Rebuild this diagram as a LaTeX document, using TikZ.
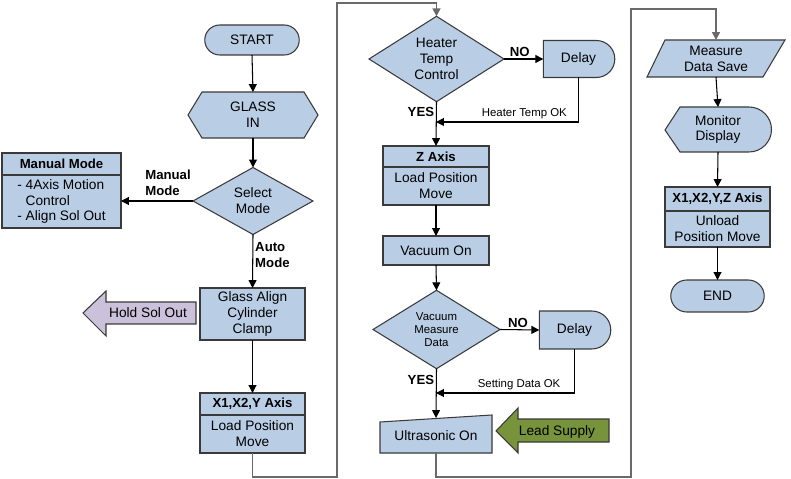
\documentclass[tikz,border=0pt]{standalone}
\usepackage{fontspec}
\setmainfont{Liberation Sans}
\usetikzlibrary{positioning,shapes.geometric,shapes.misc,arrows.meta,backgrounds}

\definecolor{flowblue}{HTML}{B9CDE5}
\definecolor{flowline}{HTML}{3A3A3A}
\definecolor{holdpurple}{HTML}{CCC1DA}
\definecolor{leadgreen}{HTML}{77933C}
\definecolor{routegray}{HTML}{6A6A6A}

\tikzset{
  base/.style={font=\fontsize{7.8}{9}\selectfont, align=center, inner sep=1pt, outer sep=0pt},
  boxed/.style={base, draw=flowline, fill=flowblue, line width=0.6pt},
  term/.style={boxed, rounded rectangle, minimum width=1.96cm, minimum height=0.6cm},
  proc/.style={boxed, rectangle, minimum width=2.1cm, minimum height=0.6cm},
  hdr/.style={proc, font=\fontsize{7.5}{9}\selectfont\bfseries, minimum height=0.44cm},
  body/.style={proc, minimum height=0.76cm},
  decision/.style={boxed, diamond, inner sep=0pt},
  delaybox/.style={boxed, rounded rectangle, rounded rectangle left arc=none,
    minimum width=1.5cm, minimum height=0.74cm},
  outline/.style={draw=flowline, fill=flowblue, line width=0.6pt},
  flow/.style={draw=black, line width=0.6pt, -{Triangle[length=4.5pt,width=4.5pt]}},
  route/.style={draw=routegray, line width=0.9pt},
  lbl/.style={font=\fontsize{7.5}{9}\selectfont\bfseries, align=left, inner sep=1pt},
  note/.style={font=\fontsize{6.5}{7.5}\selectfont, inner sep=1.5pt},
}

\begin{document}
\begin{tikzpicture}[x=0.02cm,y=-0.02cm]
	\useasboundingbox (0,0) rectangle (791,479);
	% first column
	\node[term] (start) at (252,40) {START};
	\node[base, minimum width=2.6cm, minimum height=0.92cm] (glass) at (253,115) {GLASS\\IN};
	\node[decision, minimum width=2.4cm, minimum height=1.34cm] (select) at (253,201) {Select\\Mode};
	\node[hdr, minimum width=2.38cm] (manh) at (61.5,164) {Manual Mode};
	\node[body, below=0pt of manh, minimum width=2.38cm, minimum height=1.06cm, align=left] (manb)
		{- 4Axis Motion\\\phantom{- }Control\\- Align Sol Out};
	\node[proc, minimum height=1.04cm] (align) at (252.5,314) {Glass Align\\Cylinder\\Clamp};
	\node[base] (hold) at (148,313) {Hold Sol Out};
	\node[hdr] (xyh) at (252.5,404) {X1,X2,Y Axis};
	\node[body, below=0pt of xyh] (xyb) {Load Position\\Move};
	% second column
	\node[decision, minimum width=2.7cm, minimum height=1.32cm] (heater) at (436.5,59) {Heater\\Temp\\Control};
	\node[delaybox] (delay1) at (578.5,59) {Delay};
	\coordinate (hjoin) at (436,122);
	\node[hdr, minimum width=2.12cm, minimum height=0.42cm] (zh) at (436,156.5) {Z Axis};
	\node[body, below=0pt of zh, minimum width=2.12cm] (zb) {Load Position\\Move};
	\node[proc, minimum width=2.12cm, minimum height=0.58cm] (vac) at (436,250.5) {Vacuum On};
	\node[decision, minimum width=2.54cm, minimum height=1.34cm,
		font=\fontsize{6.5}{7.4}\selectfont] (vdec) at (436.5,329.5) {Vacuum\\Measure\\Data};
	\node[delaybox, minimum height=0.76cm] (delay2) at (574.5,330) {Delay};
	\coordinate (vjoin) at (436,393);
	\node[base, minimum width=2.24cm, minimum height=0.7cm] (ultra) at (436,435.5) {Ultrasonic On};
	\node[base] (lead) at (557,432) {Lead Supply};
	% third column
	\node[base, minimum width=2.76cm, minimum height=0.74cm] (meas) at (716,58.5) {Measure\\Data Save};
	\node[base, minimum width=2.12cm, minimum height=0.9cm] (mon) at (718,129.5) {Monitor\\Display};
	\node[hdr, minimum height=0.48cm] (zzh) at (717.5,199) {X1,X2,Y,Z Axis};
	\node[body, below=0pt of zzh, minimum height=0.72cm] (zzb) {Unload\\Position Move};
	\node[term, minimum width=1.94cm, minimum height=0.64cm] (endn) at (717.5,296) {END};

	% shapes drawn directly
	\begin{scope}[on background layer]
		\draw[outline] (188,115) -- (202,92) -- (304,92) -- (318,115) -- (304,138) -- (202,138) -- cycle;
		\draw[draw=flowline, fill=holdpurple, line width=0.6pt] (196,302) -- (106,302) -- (106,291)
			-- (83,313) -- (106,336) -- (106,324) -- (196,324) -- cycle;
		\draw[outline] (380,453) -- (380,422) -- (492,415) -- (492,453) -- cycle;
		\draw[draw=flowline, fill=leadgreen, line width=0.6pt] (609,419) -- (518,419) -- (518,408)
			-- (496,431) -- (518,453) -- (518,442) -- (609,442) -- cycle;
		\draw[outline] (665,40) -- (785,40) -- (763,77) -- (647,77) -- cycle;
		\draw[outline] (665,130) -- (680,107) -- (749,107)
			arc[start angle=90, end angle=-90, radius=0.45cm] -- (680,152) -- cycle;
	\end{scope}

	% connectors
	\draw[flow] (start.south) -- (glass.north);
	\draw[flow] (glass.south) -- (select.north);
	\draw[flow] (select.west) -- node[lbl, pos=0, anchor=south east, yshift=2pt] {Manual\\Mode}
		(select.west -| manb.east);
	\draw[flow] (select.south) -- node[lbl, pos=0.1, anchor=north west] {Auto\\Mode} (align.north);
	\draw[flow] (align.south) -- (xyh.north);
	\draw[route, -{Triangle[length=4.5pt,width=4.5pt]}] (xyb.south) -- ++(0,24) -| (337,3) -| (heater.north);
	\draw[flow] (heater.east) -- node[lbl, above, pos=0.4] {NO} (delay1.west);
	\draw[flow] (heater.south) -- node[lbl, left, pos=0.24] {YES} (zh.north);
	\draw[flow] (delay1.south) |- node[note, above, pos=0.69] {Heater Temp OK} (hjoin);
	\draw[flow] (zb.south) -- (vac.north);
	\draw[flow] (vac.south) -- (vdec.north);
	\draw[flow] (vdec.east) -- node[lbl, above, pos=0.46] {NO} (delay2.west);
	\draw[flow] (vdec.south) -- node[lbl, left, pos=0.22] {YES} (ultra.north);
	\draw[flow] (delay2.south) |- node[note, above, pos=0.7] {Setting Data OK} (vjoin);
	\draw[route, -{Triangle[length=4.5pt,width=4.5pt]}] (ultra.south) -- ++(0,24) -| (631,9) -| (meas.north);
	\draw[flow] (meas.south) -- (mon.north);
	\draw[flow] (mon.south) -- (zzh.north);
	\draw[flow] (zzb.south) -- (endn.north);
\end{tikzpicture}
\end{document}
